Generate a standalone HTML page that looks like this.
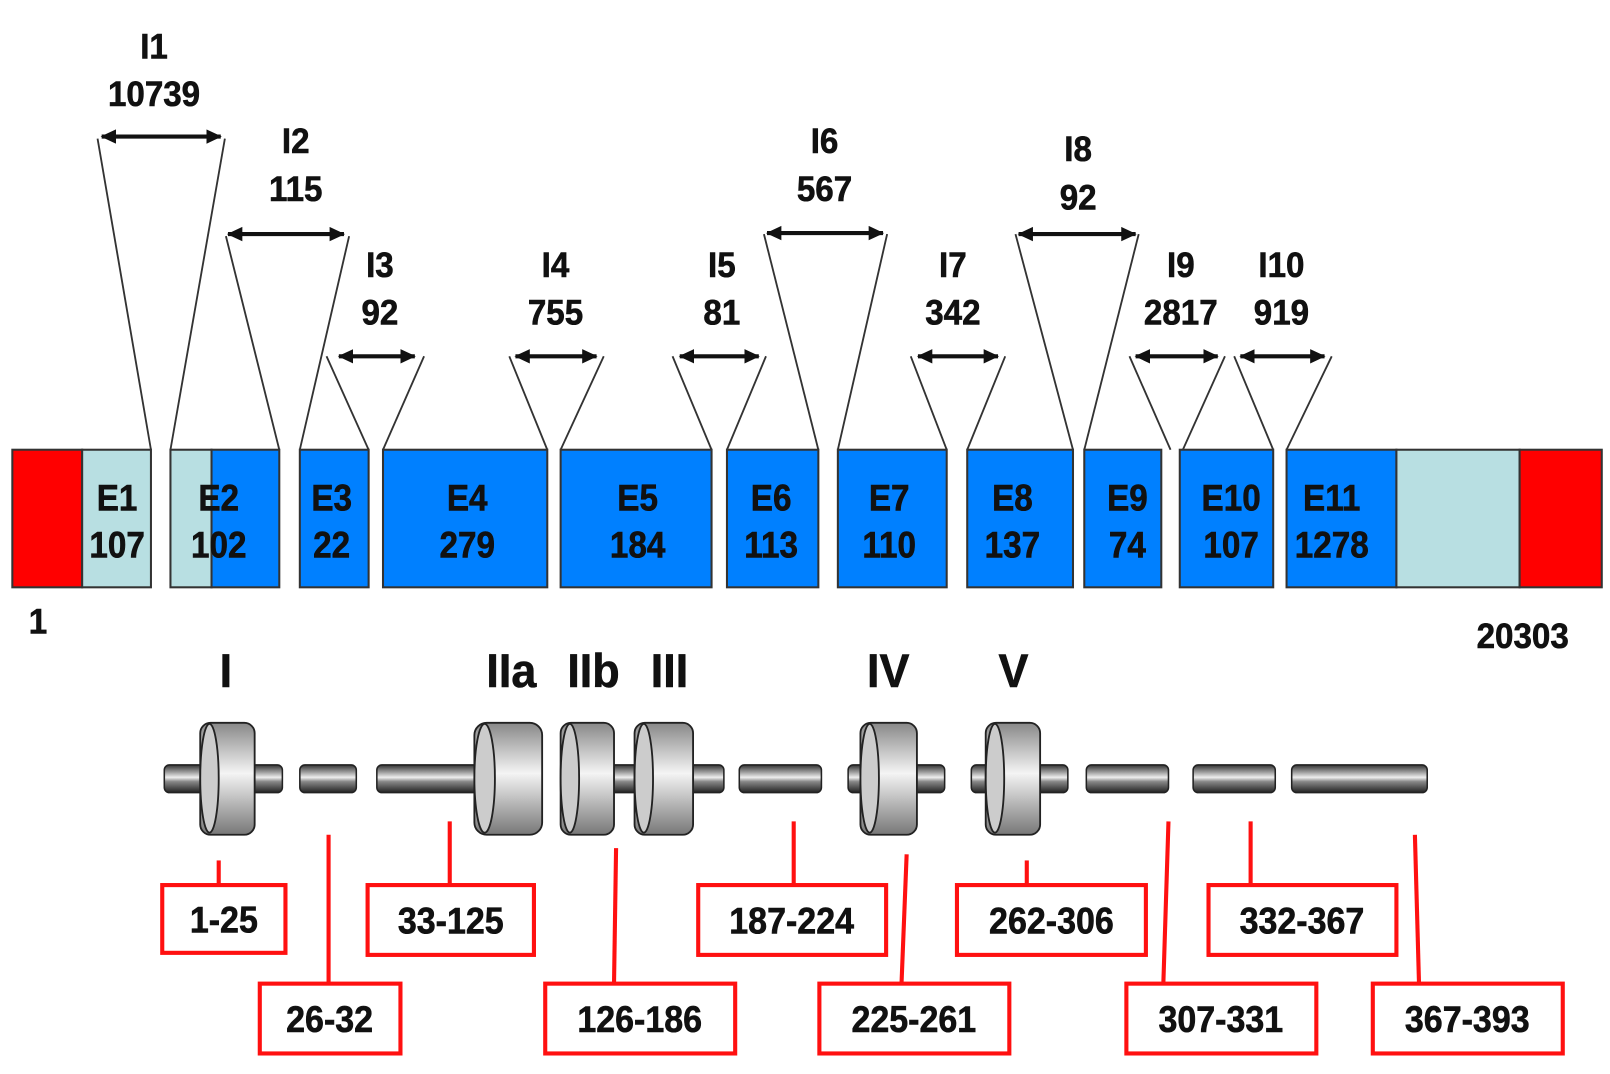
<!DOCTYPE html>
<html><head><meta charset="utf-8"><style>
html,body{margin:0;padding:0;background:#fff;}
svg{display:block}
text{font-family:"Liberation Sans",Arial,sans-serif;font-weight:bold;fill:#111;text-anchor:middle;stroke:#111;stroke-width:0.6px}
</style></head><body>
<svg width="1610" height="1074" viewBox="0 0 1568 1046" xmlns="http://www.w3.org/2000/svg">
<defs>
<linearGradient id="rod" x1="0" y1="0" x2="0" y2="1">
<stop offset="0" stop-color="#333"/><stop offset="0.25" stop-color="#999"/><stop offset="0.45" stop-color="#eee"/><stop offset="0.6" stop-color="#888"/><stop offset="1" stop-color="#222"/>
</linearGradient>
<linearGradient id="disc" x1="0" y1="0" x2="0" y2="1">
<stop offset="0" stop-color="#888"/><stop offset="0.45" stop-color="#f4f4f4"/><stop offset="1" stop-color="#777"/>
</linearGradient>
<marker id="ah" markerWidth="16" markerHeight="16" refX="14" refY="7" orient="auto-start-reverse" markerUnits="userSpaceOnUse"><path d="M0,0 L15,7 L0,14 Z" fill="#111"/></marker>
</defs>

<g font-size="34">
<text transform="translate(150,57) scale(0.95,1)">I1</text><text transform="translate(150,103) scale(0.95,1)">10739</text>
<text transform="translate(288,149) scale(0.95,1)">I2</text><text transform="translate(288,196) scale(0.95,1)">115</text>
<text transform="translate(370,270) scale(0.95,1)">I3</text><text transform="translate(370,316) scale(0.95,1)">92</text>
<text transform="translate(541,270) scale(0.95,1)">I4</text><text transform="translate(541,316) scale(0.95,1)">755</text>
<text transform="translate(703,270) scale(0.95,1)">I5</text><text transform="translate(703,316) scale(0.95,1)">81</text>
<text transform="translate(803,149) scale(0.95,1)">I6</text><text transform="translate(803,196) scale(0.95,1)">567</text>
<text transform="translate(928,270) scale(0.95,1)">I7</text><text transform="translate(928,316) scale(0.95,1)">342</text>
<text transform="translate(1050,157) scale(0.95,1)">I8</text><text transform="translate(1050,204) scale(0.95,1)">92</text>
<text transform="translate(1150,270) scale(0.95,1)">I9</text><text transform="translate(1150,316) scale(0.95,1)">2817</text>
<text transform="translate(1248,270) scale(0.95,1)">I10</text><text transform="translate(1248,316) scale(0.95,1)">919</text>
</g>

<g stroke="#111" stroke-width="4" marker-start="url(#ah)" marker-end="url(#ah)">
<line x1="99" y1="133" x2="215" y2="133"/>
<line x1="222" y1="228" x2="335" y2="228"/>
<line x1="330" y1="347" x2="404" y2="347"/>
<line x1="502" y1="347" x2="581" y2="347"/>
<line x1="662" y1="347" x2="739" y2="347"/>
<line x1="747" y1="227" x2="860" y2="227"/>
<line x1="894" y1="347" x2="972" y2="347"/>
<line x1="992" y1="228" x2="1106" y2="228"/>
<line x1="1106" y1="347" x2="1186" y2="347"/>
<line x1="1208" y1="347" x2="1290" y2="347"/>
</g>

<g stroke="#333" stroke-width="1.8" fill="none">
<line x1="95" y1="135" x2="147" y2="438"/><line x1="219" y1="135" x2="166" y2="438"/>
<line x1="220" y1="230" x2="272" y2="438"/><line x1="340" y1="230" x2="292" y2="438"/>
<line x1="318" y1="347" x2="359" y2="438"/><line x1="413" y1="347" x2="373" y2="438"/>
<line x1="496" y1="347" x2="533" y2="438"/><line x1="588" y1="347" x2="546" y2="438"/>
<line x1="655" y1="347" x2="693" y2="438"/><line x1="746" y1="347" x2="708" y2="438"/>
<line x1="744" y1="228" x2="797" y2="438"/><line x1="864" y1="228" x2="816" y2="438"/>
<line x1="887" y1="347" x2="922" y2="438"/><line x1="979" y1="347" x2="942" y2="438"/>
<line x1="989" y1="228" x2="1045" y2="438"/><line x1="1109" y1="228" x2="1056" y2="438"/>
<line x1="1100" y1="347" x2="1140" y2="438"/><line x1="1193" y1="347" x2="1152" y2="438"/>
<line x1="1202" y1="347" x2="1240" y2="438"/><line x1="1297" y1="347" x2="1253" y2="438"/>
</g>

<g stroke="#333" stroke-width="2">
<rect x="12" y="438" width="68" height="134" fill="#ff0000"/>
<rect x="80" y="438" width="67" height="134" fill="#b8dfe2"/>
<rect x="166" y="438" width="40" height="134" fill="#b8dfe2"/>
<rect x="206" y="438" width="66" height="134" fill="#0080ff"/>
<rect x="292" y="438" width="67" height="134" fill="#0080ff"/>
<rect x="373" y="438" width="160" height="134" fill="#0080ff"/>
<rect x="546" y="438" width="147" height="134" fill="#0080ff"/>
<rect x="708" y="438" width="89" height="134" fill="#0080ff"/>
<rect x="816" y="438" width="106" height="134" fill="#0080ff"/>
<rect x="942" y="438" width="103" height="134" fill="#0080ff"/>
<rect x="1056" y="438" width="75" height="134" fill="#0080ff"/>
<rect x="1149" y="438" width="91" height="134" fill="#0080ff"/>
<rect x="1253" y="438" width="107" height="134" fill="#0080ff"/>
<rect x="1360" y="438" width="120" height="134" fill="#b8dfe2"/>
<rect x="1480" y="438" width="80" height="134" fill="#ff0000"/>
</g>
<g font-size="36">
<text transform="translate(114,497) scale(0.9,1)">E1</text><text transform="translate(114,543) scale(0.9,1)">107</text>
<text transform="translate(213,497) scale(0.9,1)">E2</text><text transform="translate(213,543) scale(0.9,1)">102</text>
<text transform="translate(323,497) scale(0.9,1)">E3</text><text transform="translate(323,543) scale(0.9,1)">22</text>
<text transform="translate(455,497) scale(0.9,1)">E4</text><text transform="translate(455,543) scale(0.9,1)">279</text>
<text transform="translate(621,497) scale(0.9,1)">E5</text><text transform="translate(621,543) scale(0.9,1)">184</text>
<text transform="translate(751,497) scale(0.9,1)">E6</text><text transform="translate(751,543) scale(0.9,1)">113</text>
<text transform="translate(866,497) scale(0.9,1)">E7</text><text transform="translate(866,543) scale(0.9,1)">110</text>
<text transform="translate(986,497) scale(0.9,1)">E8</text><text transform="translate(986,543) scale(0.9,1)">137</text>
<text transform="translate(1098,497) scale(0.9,1)">E9</text><text transform="translate(1098,543) scale(0.9,1)">74</text>
<text transform="translate(1199,497) scale(0.9,1)">E10</text><text transform="translate(1199,543) scale(0.9,1)">107</text>
<text transform="translate(1297,497) scale(0.9,1)">E11</text><text transform="translate(1297,543) scale(0.9,1)">1278</text>
</g>
<g font-size="34">
<text transform="translate(37,617) scale(0.95,1)">1</text>
<text transform="translate(1483,631) scale(0.95,1)">20303</text>
</g>
<g font-size="46">
<text transform="translate(220,669) scale(0.95,1)">I</text>
<text transform="translate(498,669) scale(0.95,1)">IIa</text>
<text transform="translate(578,669) scale(0.95,1)">IIb</text>
<text transform="translate(652,669) scale(0.95,1)">III</text>
<text transform="translate(865,669) scale(0.95,1)">IV</text>
<text transform="translate(987,669) scale(0.95,1)">V</text>
</g>

<g stroke="#222" stroke-width="1.5" fill="url(#rod)">
<rect x="160" y="745" width="115" height="27" rx="5"/>
<rect x="292" y="745" width="55" height="27" rx="5"/>
<rect x="367" y="745" width="105" height="27" rx="5"/>
<rect x="590" y="745" width="115" height="27" rx="5"/>
<rect x="720" y="745" width="80" height="27" rx="5"/>
<rect x="826" y="745" width="94" height="27" rx="5"/>
<rect x="946" y="745" width="94" height="27" rx="5"/>
<rect x="1058" y="745" width="80" height="27" rx="5"/>
<rect x="1162" y="745" width="80" height="27" rx="5"/>
<rect x="1258" y="745" width="132" height="27" rx="5"/>
</g>
<g stroke="#222" stroke-width="1.8">
<rect x="195" y="704" width="53" height="109" rx="10" fill="url(#disc)"/><ellipse cx="204" cy="758" rx="9" ry="53" fill="#ccc"/>
<rect x="462" y="704" width="66" height="109" rx="12" fill="url(#disc)"/><ellipse cx="472" cy="758" rx="10" ry="53" fill="#ccc"/>
<rect x="546" y="704" width="52" height="109" rx="10" fill="url(#disc)"/><ellipse cx="555" cy="758" rx="9" ry="53" fill="#ccc"/>
<rect x="618" y="704" width="57" height="109" rx="10" fill="url(#disc)"/><ellipse cx="627" cy="758" rx="9" ry="53" fill="#ccc"/>
<rect x="838" y="704" width="55" height="109" rx="10" fill="url(#disc)"/><ellipse cx="847" cy="758" rx="9" ry="53" fill="#ccc"/>
<rect x="960" y="704" width="53" height="109" rx="10" fill="url(#disc)"/><ellipse cx="969" cy="758" rx="9" ry="53" fill="#ccc"/>
</g>

<g stroke="#ff1010" stroke-width="4" fill="none">
<line x1="213" y1="838" x2="213" y2="862"/>
<line x1="320" y1="813" x2="320" y2="958"/>
<line x1="438" y1="800" x2="438" y2="862"/>
<line x1="600" y1="826" x2="598" y2="958"/>
<line x1="773" y1="800" x2="773" y2="862"/>
<line x1="883" y1="832" x2="878" y2="958"/>
<line x1="1000" y1="838" x2="1000" y2="862"/>
<line x1="1138" y1="800" x2="1133" y2="958"/>
<line x1="1218" y1="800" x2="1218" y2="862"/>
<line x1="1378" y1="813" x2="1382" y2="958"/>
<rect x="158" y="862" width="120" height="66" fill="#fff"/>
<rect x="253" y="958" width="137" height="68" fill="#fff"/>
<rect x="358" y="862" width="162" height="68" fill="#fff"/>
<rect x="531" y="958" width="185" height="68" fill="#fff"/>
<rect x="680" y="862" width="183" height="68" fill="#fff"/>
<rect x="798" y="958" width="185" height="68" fill="#fff"/>
<rect x="932" y="862" width="184" height="68" fill="#fff"/>
<rect x="1097" y="958" width="185" height="68" fill="#fff"/>
<rect x="1177" y="862" width="183" height="68" fill="#fff"/>
<rect x="1337" y="958" width="185" height="68" fill="#fff"/>
</g>
<g font-size="36">
<text transform="translate(218,908) scale(0.92,1)">1-25</text>
<text transform="translate(321,1005) scale(0.92,1)">26-32</text>
<text transform="translate(439,909) scale(0.92,1)">33-125</text>
<text transform="translate(623,1005) scale(0.92,1)">126-186</text>
<text transform="translate(771,909) scale(0.92,1)">187-224</text>
<text transform="translate(890,1005) scale(0.92,1)">225-261</text>
<text transform="translate(1024,909) scale(0.92,1)">262-306</text>
<text transform="translate(1189,1005) scale(0.92,1)">307-331</text>
<text transform="translate(1268,909) scale(0.92,1)">332-367</text>
<text transform="translate(1429,1005) scale(0.92,1)">367-393</text>
</g>
</svg>
</body></html>
